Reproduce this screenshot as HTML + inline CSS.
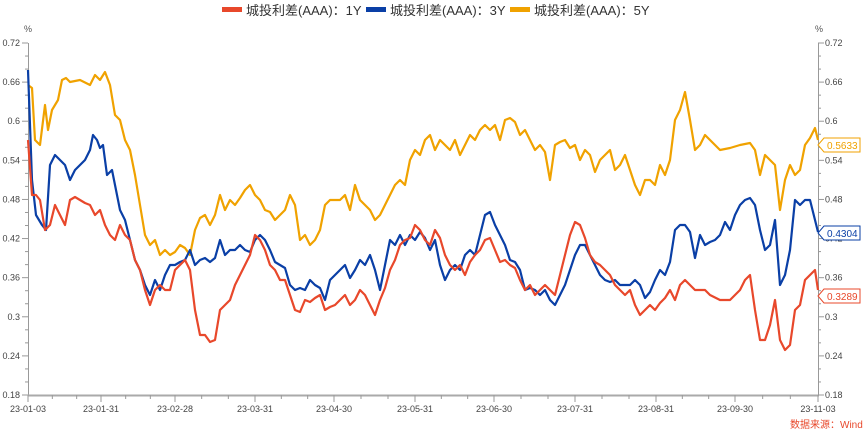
<!DOCTYPE html>
<html><head><meta charset="utf-8"><style>
body{margin:0;background:#fff;}
svg{display:block;font-family:"Liberation Sans","Noto Sans CJK SC",sans-serif;}
</style></head><body>
<svg width="865" height="433" viewBox="0 0 865 433" xmlns="http://www.w3.org/2000/svg">
<g font-size="13" fill="#333">
<rect x="222" y="7" width="20" height="5" fill="#e8482b"/><text x="246" y="15">城投利差(AAA)：1Y</text>
<rect x="366" y="7" width="20" height="5" fill="#0a3fa6"/><text x="390" y="15">城投利差(AAA)：3Y</text>
<rect x="510" y="7" width="20" height="5" fill="#f0a200"/><text x="534" y="15">城投利差(AAA)：5Y</text>
</g>
<g font-size="9" fill="#555">
<text x="24" y="32">%</text><text x="815" y="32">%</text>
</g>
<g stroke="#999" stroke-width="1" fill="none">
<line x1="28.5" y1="43" x2="28.5" y2="395"/>
<line x1="818.5" y1="43" x2="818.5" y2="395"/>
<line x1="28" y1="395.5" x2="819" y2="395.5" stroke="#aaa" stroke-width="2"/>
</g>
<g id="ticks" stroke="#999"></g>
<g id="lab" font-size="9" fill="#444"></g>
<g fill="none" stroke-width="2.2" stroke-linejoin="round">
<polyline stroke="#f0a200" points="28,85 32,88 35,140 40,145 45,105 48,130 52,110 58,100 62,80 66,78 70,82 80,80 90,85 95,75 100,80 105,72 110,85 115,115 120,120 125,140 130,150 135,175 140,205 145,235 150,245 155,240 160,255 165,250 170,255 175,252 180,245 185,248 190,255 195,230 200,218 205,215 210,225 215,215 220,195 225,210 230,200 235,205 240,198 245,190 250,185 255,195 260,200 265,210 270,212 275,220 280,215 285,210 290,195 295,205 300,240 305,235 310,245 315,240 320,230 325,205 330,200 335,200 340,200 345,195 350,210 355,185 360,200 365,205 370,210 375,220 380,215 385,205 390,195 395,185 400,180 405,185 410,160 415,150 420,155 425,140 430,135 435,150 440,140 445,145 450,150 455,140 460,155 465,145 470,135 475,140 480,130 485,125 490,130 495,125 500,140 505,120 510,118 515,122 520,135 525,130 530,140 535,150 540,145 545,152 550,180 555,145 560,142 565,140 570,148 575,145 580,160 585,150 590,155 595,172 600,160 605,155 610,150 615,170 620,165 625,155 630,170 635,185 640,195 645,180 650,180 655,185 660,165 665,175 670,160 675,120 680,110 685,92 690,120 695,150 700,145 705,135 710,140 715,145 720,150 730,148 740,145 750,143 755,150 760,175 765,155 770,160 775,165 780,210 785,180 790,165 795,175 800,170 805,145 810,138 815,128 818,140"/>
<polyline stroke="#0a3fa6" points="28,70 32,180 36,215 42,225 46,230 50,165 55,155 60,160 65,165 70,180 75,170 80,165 85,160 90,150 93,135 97,140 100,148 103,145 107,175 112,170 116,190 120,210 125,220 130,240 135,260 140,270 145,285 150,295 155,280 160,290 165,275 170,265 175,265 180,262 185,260 190,250 195,265 200,260 205,258 210,262 215,258 220,240 225,255 230,250 235,250 240,245 245,250 250,252 255,240 260,235 265,240 270,250 275,262 280,265 285,268 290,285 295,290 300,288 305,290 310,280 315,285 320,288 325,300 330,280 335,275 340,270 345,265 350,278 355,270 360,260 365,265 370,255 375,270 380,290 385,265 390,240 395,245 400,235 405,245 410,235 415,240 420,232 425,238 430,250 435,240 440,265 445,280 450,270 455,265 460,270 465,255 470,250 475,255 480,235 485,215 490,212 495,225 500,235 505,245 510,260 515,262 520,270 525,290 530,288 535,290 540,295 545,290 550,300 555,305 560,295 565,285 570,270 575,255 580,245 585,245 590,255 595,265 600,275 605,280 610,282 615,280 620,285 625,285 630,285 635,280 640,285 645,298 650,292 655,280 660,270 665,275 670,262 675,230 680,225 685,225 690,232 695,258 700,235 705,245 710,242 715,240 720,235 725,222 730,230 735,215 740,205 745,200 750,198 755,205 760,230 765,250 770,245 775,220 780,285 785,275 790,250 795,200 800,205 805,200 810,200 815,220 818,232"/>
<polyline stroke="#e8482b" points="28,140 32,195 36,195 40,200 45,230 50,225 55,205 60,215 65,225 70,200 75,197 80,200 85,203 90,205 95,215 100,210 105,225 110,235 115,240 120,225 125,235 130,240 135,260 140,270 145,290 150,305 155,290 160,285 165,290 170,290 175,270 180,265 185,260 190,270 195,310 200,335 205,335 210,342 215,340 220,310 225,305 230,300 235,285 240,275 245,265 250,255 255,235 260,240 265,250 270,265 275,270 280,280 285,280 290,295 295,310 300,312 305,300 310,302 315,298 320,295 325,310 330,307 335,305 340,300 345,295 350,305 355,300 360,290 365,295 370,305 375,315 380,300 385,288 390,270 395,260 400,245 405,240 410,238 415,225 420,230 425,240 430,245 435,230 440,238 445,255 450,265 455,270 460,265 465,275 470,262 475,255 480,250 485,240 490,238 495,250 500,262 505,260 510,265 515,268 520,280 525,290 530,285 535,295 540,290 545,285 550,290 555,295 560,275 565,255 570,235 575,222 580,225 585,238 590,255 595,262 600,265 605,270 610,275 615,285 620,290 625,295 630,290 635,305 640,315 645,310 650,305 655,310 660,303 665,298 670,290 675,300 680,285 685,280 690,285 695,290 700,290 705,290 710,295 720,300 730,300 740,290 745,280 750,275 755,310 760,340 765,340 770,325 775,300 780,340 785,350 790,345 795,310 800,305 805,280 810,275 815,270 818,290"/>
</g>
<g font-size="10">
<path d="M818,145 L824,138 H860 V152 H824 Z" fill="#fff" stroke="#f0a200"/><text x="827" y="149" fill="#f0a200">0.5633</text>
<path d="M818,233 L824,226 H860 V240 H824 Z" fill="#fff" stroke="#0a3fa6"/><text x="827" y="237" fill="#0a3fa6">0.4304</text>
<path d="M818,296 L824,289 H860 V303 H824 Z" fill="#fff" stroke="#e8482b"/><text x="827" y="300" fill="#e8482b">0.3289</text>
</g>
<text x="790" y="428" font-size="10" fill="#e8482b">数据来源：Wind</text>
</svg>
<script>
var t=document.getElementById('ticks'),l=document.getElementById('lab'),ns='http://www.w3.org/2000/svg';
function el(p,n,a,txt){var e=document.createElementNS(ns,n);for(var k in a)e.setAttribute(k,a[k]);if(txt)e.textContent=txt;p.appendChild(e);}
for(var i=0;i<=27;i++){var y=43+i*352/27;var maj=i%3==0;
el(t,'line',{x1:maj?22:25,x2:28,y1:y,y2:y});el(t,'line',{x1:818,x2:maj?824:821,y1:y,y2:y});
if(maj){var v=(0.72-i*0.02);var s=(+v.toFixed(2)).toString();el(l,'text',{x:20,y:y+3,'text-anchor':'end'},s);el(l,'text',{x:825,y:y+3},s);}}
var xs=[28,101,175,255,334,415,494,575,656,735,818],ls=['23-01-03','23-01-31','23-02-28','23-03-31','23-04-30','23-05-31','23-06-30','23-07-31','23-08-31','23-09-30','23-11-03'];
for(var j=0;j<xs.length;j++){el(t,'line',{x1:xs[j],x2:xs[j],y1:395,y2:402});el(l,'text',{x:xs[j],y:412,'text-anchor':'middle'},ls[j]);
if(j<xs.length-1){var d=(xs[j+1]-xs[j])/3;for(var m=1;m<3;m++){var x=xs[j]+d*m;el(t,'line',{x1:x,x2:x,y1:395,y2:399});}}}
</script>
</body></html>
